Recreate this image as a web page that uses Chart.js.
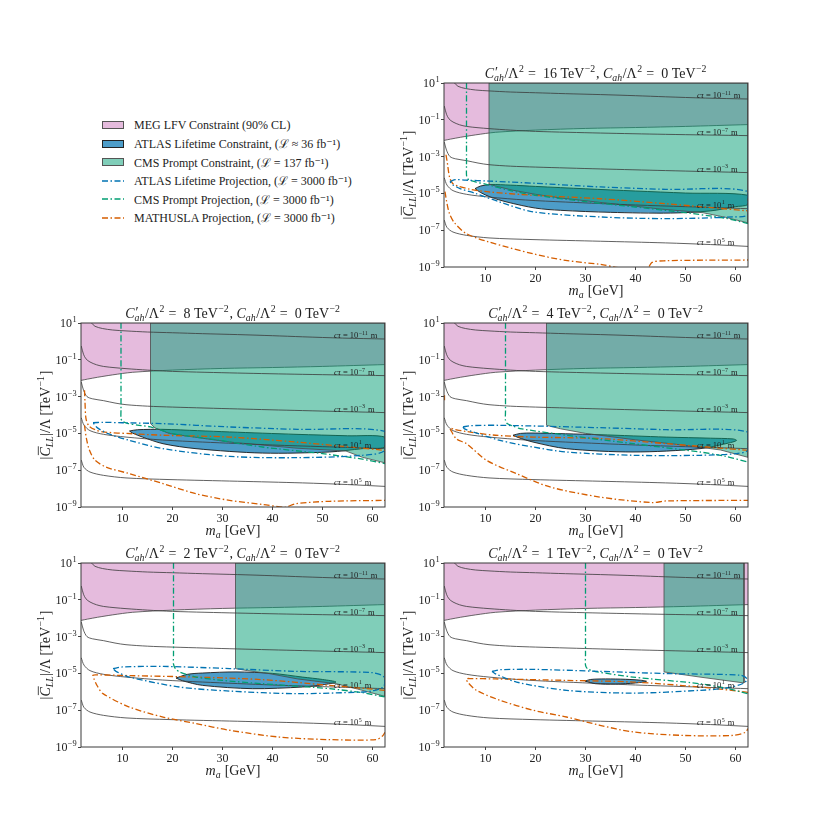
<!DOCTYPE html>
<html>
<head>
<meta charset="utf-8">
<script src="https://cdn.jsdelivr.net/npm/chart.js@4.4.1/dist/chart.umd.min.js"></script>
<style>
  html, body { margin: 0; padding: 0; background: #fff; }
  #page { position: relative; width: 830px; height: 830px; overflow: hidden; font-family: 'Liberation Serif', 'DejaVu Serif', serif; }
  .panel { position: absolute; }
  #legend { position: absolute; left: 102px; top: 116px; font-size: 12px; color: #222; }
  .row { height: 18.5px; display: flex; align-items: center; white-space: nowrap; }
  .swatch { width: 22px; height: 8px; margin-right: 10px; box-sizing: border-box; flex: none; }
  .swatch svg { display: block; }
</style>
</head>
<body>
<div id="page">
  <div id="legend"></div>
</div>
<script>
// axis ranges and ticks
const X_MIN = 1.7;
const X_MAX = 62.5;
const X_TICKS = [10, 20, 30, 40, 50, 60];
const Y_TICKS = [1e1, 1e-1, 1e-3, 1e-5, 1e-7, 1e-9];
const Y_TICK_EXPONENTS = ['1', '−1', '−3', '−5', '−7', '−9'];

// C'_ah / Λ² of each panel, in TeV⁻²
const COUPLINGS = [16, 8, 4, 2, 1];

// all curves below: [m_a in GeV, log10(|C_LL|/Λ in TeV⁻¹)]

// cτ contours, same in every panel
const CT_M11 = [[3.8, 1.0], [4.5, 0.82], [6, 0.7], [8, 0.62], [10.7, 0.57], [15, 0.51], [20, 0.47], [26, 0.42], [33, 0.37], [40, 0.31], [46, 0.25], [54, 0.18], [62.5, 0.13]];
const CT_M7 = [[1.75, -0.25], [2.2, -0.7], [2.7, -0.95], [3.5, -1.12], [4.8, -1.27], [6.2, -1.36], [8.5, -1.43], [10.7, -1.48], [15, -1.56], [20, -1.63], [33, -1.72], [46, -1.79], [62.5, -1.86]];
const CT_M3 = [[1.75, -2.2], [2.2, -2.65], [2.9, -3.0], [4, -3.12], [6.2, -3.22], [8.5, -3.35], [10.7, -3.44], [15, -3.52], [20, -3.57], [33, -3.67], [46, -3.76], [62.5, -3.87]];
const CT_P1 = [[1.75, -4.15], [2.3, -4.55], [3.5, -4.85], [6.2, -5.05], [10.7, -5.2], [18, -5.36], [26, -5.47], [40, -5.63], [50, -5.72], [62.5, -5.83]];
const CT_P5 = [[1.75, -6.45], [2.3, -6.85], [3.5, -7.1], [6.2, -7.28], [10.7, -7.42], [19.5, -7.51], [33, -7.6], [46, -7.69], [55, -7.78], [62.5, -7.88]];
const CTAU_LINES = [CT_M11, CT_M7, CT_M3, CT_P1, CT_P5];
const CTAU_EXPONENTS = ['−11', '−7', '−3', '1', '5'];

// MEG LFV lower edge (excluded above)
const MEG_EDGE = [[1.7, -2.12], [3, -2.05], [5, -1.95], [8, -1.82], [12, -1.68], [20, -1.56], [30, -1.47], [40, -1.42], [50, -1.36], [62.5, -1.26]];

// C'_ah/Λ² = 16
const CMS_16 = [[10.7, 1.0], [62.5, 1.0], [62.5, -6.6], [58, -6.3], [53.5, -6.05], [45, -5.85], [35, -5.55], [25, -5.25], [20, -5.05], [15.5, -4.83], [12, -4.6], [10.7, -4.5], [10.7, 1.0]];
const ATLAS_16 = [[7.9, -4.74], [9, -4.6], [11, -4.52], [15, -4.55], [20, -4.62], [30, -4.75], [40, -4.87], [50, -4.98], [62.5, -5.1], [62.5, -5.6], [60, -5.72], [55, -5.95], [47, -6.07], [35, -6.03], [25, -5.92], [20, -5.8], [14.3, -5.47], [11, -5.2], [9, -4.95], [7.9, -4.74]];
const CMS_PROJ_16 = [[6.2, 1.0], [6.2, -3.5], [6.2, -4.0], [6.4, -4.2], [7, -4.3], [8, -4.38], [10, -4.5], [15, -4.85], [20, -5.1], [30, -5.45], [40, -5.74], [50, -6.05], [58, -6.35], [62.5, -6.64]];
const ATLAS_PROJ_16 = [[2.9, -4.35], [4, -4.25], [6, -4.28], [10.7, -4.33], [20, -4.45], [33, -4.65], [46, -4.78], [62.5, -4.9], [62.5, -6.15], [59.5, -6.28], [46, -6.37], [33, -6.28], [19.5, -6.0], [12.9, -5.47], [8, -5.0], [4.9, -4.74], [3.3, -4.5], [2.9, -4.35]];
const MATH_UP_16 = [[2.1, -2.9], [2.4, -3.4], [2.8, -4.1], [3.4, -4.45], [4.5, -4.6], [7, -4.78], [10.7, -4.92], [19.5, -5.1], [33, -5.29], [46, -5.56], [62.5, -5.95]];
const MATH_LO_16 = [[1.9, -4.9], [2.2, -5.4], [2.8, -6.1], [3.8, -6.6], [6.2, -7.19], [10.7, -7.64], [19.5, -8.28], [26, -8.64], [33, -8.86], [37, -9.05], [42.3, -9.1], [43.3, -8.75], [46, -8.66], [54, -8.63], [62.5, -8.62]];

// C'_ah/Λ² = 8
const CMS_8 = [[15.6, 1.0], [62.5, 1.0], [62.5, -6.6], [58, -6.3], [54.7, -5.96], [44.7, -5.8], [31.4, -5.47], [19.4, -5.01], [16.5, -4.7], [15.6, -4.47], [15.6, 1.0]];
const ATLAS_8 = [[11.4, -4.87], [13, -4.8], [18.1, -4.78], [25, -4.85], [31.4, -4.92], [44.7, -5.05], [55, -5.13], [62.5, -5.2], [62.5, -5.74], [58, -5.83], [51.4, -6.01], [38, -6.07], [24.7, -5.83], [18.1, -5.56], [14, -5.2], [12, -4.98], [11.4, -4.87]];
const CMS_PROJ_8 = [[9.7, 1.0], [9.7, -3.7], [9.7, -4.2], [10, -4.35], [11, -4.45], [13, -4.55], [15.6, -4.65], [20, -5.01], [30, -5.4], [38, -5.74], [50, -6.1], [58, -6.4], [62.5, -6.64]];
const ATLAS_PROJ_8 = [[4.1, -4.42], [6, -4.4], [10, -4.42], [18.1, -4.47], [31.4, -4.65], [45, -4.78], [62.5, -4.89], [62.5, -5.92], [58, -6.19], [44.7, -6.32], [31.4, -6.25], [18.1, -5.83], [11.4, -5.38], [7, -5.0], [5, -4.7], [4.1, -4.42]];
const MATH_UP_8 = [[2.4, -2.66], [2.5, -3.3], [2.7, -4.2], [3.3, -4.6], [4.5, -4.8], [6.1, -4.92], [12, -5.02], [18.1, -5.1], [31.4, -5.2], [44.7, -5.47], [62.5, -5.92]];
const MATH_LO_8 = [[2.4, -4.56], [2.8, -5.3], [3.4, -5.92], [4.5, -6.45], [6.7, -6.83], [11.4, -7.19], [18.1, -7.73], [24.7, -8.28], [31.4, -8.64], [38, -8.86], [42.4, -9.02], [44.7, -8.82], [51.4, -8.69], [62.5, -8.64]];

// C'_ah/Λ² = 4
const CMS_4 = [[22.2, 1.0], [62.5, 1.0], [62.5, -6.3], [57, -5.9], [50, -5.65], [40, -5.35], [30, -5.0], [25, -4.75], [22.2, -4.56], [22.2, 1.0]];
const ATLAS_4 = [[15.5, -5.1], [17, -5.0], [19.5, -4.98], [26, -5.02], [32.9, -5.07], [46.2, -5.2], [55, -5.26], [59.5, -5.3], [60.2, -5.38], [59, -5.5], [52.9, -5.83], [39.5, -6.01], [26.2, -5.83], [19.5, -5.47], [16.5, -5.22], [15.5, -5.1]];
const CMS_PROJ_4 = [[14, 1.0], [14, -3.8], [14, -4.3], [14.4, -4.48], [15.5, -4.6], [16.9, -4.74], [26.2, -5.1], [39.5, -5.56], [52.9, -6.01], [58, -6.25], [62.5, -6.55]];
const ATLAS_PROJ_4 = [[5.5, -4.65], [7, -4.58], [12.9, -4.56], [32.9, -4.69], [46.2, -4.8], [62.5, -4.92], [62.5, -5.9], [60, -6.1], [52.9, -6.19], [39.5, -6.19], [26.2, -6.01], [19.5, -5.74], [12.9, -5.38], [7.5, -4.92], [5.8, -4.75], [5.5, -4.65]];
const MATH_UP_4 = [[62.5, -5.92], [46.2, -5.56], [32.9, -5.28], [19.5, -5.2], [12, -5.1], [6.2, -4.9], [3.8, -4.78], [2.9, -4.72], [3.1, -4.85], [4.2, -5.3], [6.2, -5.56], [10.2, -6.46], [16.2, -7.19], [22.9, -7.91], [32.9, -8.46], [43.3, -8.76], [46.2, -8.67], [62.5, -8.64]];
const MATH_LO_4 = [[1.8, -2.93], [1.8, -3.2]];

// C'_ah/Λ² = 2
const CMS_2 = [[32.6, 1.0], [62.5, 1.0], [62.5, -6.25], [57, -5.85], [52.7, -5.56], [45, -5.3], [39.3, -5.01], [35, -4.85], [32.6, -4.74], [32.6, 1.0]];
const ATLAS_2 = [[20.7, -5.25], [23, -5.05], [26, -4.98], [32.7, -4.92], [40, -5.0], [46, -5.2], [50, -5.33], [52.7, -5.47], [50, -5.62], [46, -5.74], [36, -5.83], [26, -5.65], [22, -5.4], [20.7, -5.25]];
const CMS_PROJ_2 = [[20.2, 1.0], [20.2, -4.0], [20.2, -4.5], [20.6, -4.75], [21.4, -4.92], [24.7, -5.2], [30, -5.38], [38, -5.56], [51.4, -5.83], [58, -6.05], [62.5, -6.28]];
const ATLAS_PROJ_2 = [[8.1, -4.74], [10, -4.65], [18.1, -4.62], [31.4, -4.74], [44.7, -4.89], [60, -4.96], [62.3, -5.2], [62.3, -5.7], [60, -5.95], [58, -6.01], [44.7, -6.1], [31.4, -5.96], [21.4, -5.74], [11.4, -5.2], [8.7, -4.89], [8.1, -4.74]];
const MATH_UP_2 = [[62.5, -5.92], [51.4, -5.65], [38, -5.34], [24.7, -5.2], [11.4, -5.12], [5, -5.08], [4.1, -5.1], [4.3, -5.3], [5, -5.7], [6.1, -6.1], [11.4, -6.83], [18.1, -7.37], [24.7, -7.73], [31.4, -8.09], [41.4, -8.46], [51.4, -8.6], [60.7, -8.6], [62, -8.4], [62.5, -8.2]];
const MATH_LO_2 = [];

// C'_ah/Λ² = 1
const CMS_1 = [[45.7, 1.0], [61.7, 1.0], [61.7, -5.52], [52.9, -5.2], [45.7, -4.92], [45.7, 1.0]];
const ATLAS_1 = [[29.9, -5.42], [31, -5.33], [34, -5.3], [38, -5.32], [41, -5.37], [42.2, -5.43], [40, -5.52], [36, -5.58], [32, -5.56], [29.9, -5.42]];
const CMS_PROJ_1 = [[30, 1.0], [30, -4.0], [30, -4.55], [30.4, -4.75], [32, -4.9], [39.5, -5.2], [52.9, -5.56], [58, -5.8], [62.5, -6.1]];
const ATLAS_PROJ_1 = [[11.3, -4.89], [13, -4.8], [19.5, -4.78], [32.9, -4.89], [46.2, -5.01], [61, -5.1], [62.3, -5.3], [61.5, -5.55], [58, -5.8], [52.9, -5.92], [39.5, -6.07], [26.2, -5.92], [16.2, -5.47], [11.9, -5.01], [11.3, -4.89]];
const MATH_UP_1 = [[62.5, -6.03], [52.9, -5.74], [39.5, -5.47], [26.2, -5.38], [12, -5.3], [7, -5.28], [6.2, -5.3], [6.5, -5.5], [8.2, -5.92], [12.9, -6.46], [19.5, -7.0], [26.2, -7.37], [32.9, -7.82], [39.5, -8.18], [49.5, -8.37], [59.5, -8.37], [62, -8.2], [62.5, -8.0]];
const MATH_LO_1 = [];

const LEGEND_LABELS = [
  'MEG LFV Constraint (90% CL)',
  'ATLAS Lifetime Constraint, (ℒ ≈ 36 fb⁻¹)',
  'CMS Prompt Constraint, (ℒ = 137 fb⁻¹)',
  'ATLAS Lifetime Projection, (ℒ = 3000 fb⁻¹)',
  'CMS Prompt Projection, (ℒ = 3000 fb⁻¹)',
  'MATHUSLA Projection, (ℒ = 3000 fb⁻¹)',
];

const COLORS = {
  meg: 'rgba(204, 120, 188, 0.5)',
  atlas: 'rgba(1, 115, 178, 0.7)',
  cms: 'rgba(2, 158, 115, 0.5)',
  atlasProj: '#0173b2',
  cmsProj: '#029e73',
  mathusla: '#d55e00',
  contour: '#3a3a3a',
};

const PANEL_DATA = {
  16: { cms: CMS_16, atlas: ATLAS_16, cmsProj: CMS_PROJ_16, atlasProj: ATLAS_PROJ_16, math: [MATH_UP_16, MATH_LO_16] },
  8: { cms: CMS_8, atlas: ATLAS_8, cmsProj: CMS_PROJ_8, atlasProj: ATLAS_PROJ_8, math: [MATH_UP_8, MATH_LO_8] },
  4: { cms: CMS_4, atlas: ATLAS_4, cmsProj: CMS_PROJ_4, atlasProj: ATLAS_PROJ_4, math: [MATH_UP_4, MATH_LO_4] },
  2: { cms: CMS_2, atlas: ATLAS_2, cmsProj: CMS_PROJ_2, atlasProj: ATLAS_PROJ_2, math: [MATH_UP_2, MATH_LO_2] },
  1: { cms: CMS_1, atlas: ATLAS_1, cmsProj: CMS_PROJ_1, atlasProj: ATLAS_PROJ_1, math: [MATH_UP_1, MATH_LO_1] },
};

// plot-area boxes on the page [left, top, right, bottom]
const PANEL_BOXES = {
  16: [444, 83, 748, 267],
  8: [81, 323, 385, 507],
  4: [444, 323, 748, 507],
  2: [81, 563, 385, 747],
  1: [444, 563, 748, 747],
};

const FONT = "'Liberation Serif', 'DejaVu Serif', serif";
const INK = '#222';
const DASH_DOT = [6, 2.5, 1.5, 2.5];
const Y_AXIS_W = 50;
const X_AXIS_H = 34;
const TITLE_H = 22;
const PAD_R = 8;

const page = document.getElementById('page');

function toPoints(curve) {
  return curve.map(([x, e]) => ({ x, y: Math.pow(10, e) }));
}

function interpAt(curve, x) {
  for (let i = 1; i < curve.length; i++) {
    const [x0, y0] = curve[i - 1];
    const [x1, y1] = curve[i];
    if (x >= x0 && x <= x1) return y0 + (y1 - y0) * (x - x0) / (x1 - x0);
  }
  return curve[curve.length - 1][1];
}

// small rich-text helper: parts are {t, it, sup, supBig, sub, subIt, bar}
function fontFor(size, italic) {
  return `${italic ? 'italic ' : ''}${size}px ${FONT}`;
}

function layoutRich(ctx, parts, size) {
  const small = size * 0.7;
  const items = [];
  let w = 0;
  parts.forEach((p) => {
    ctx.font = fontFor(size, p.it);
    const mw = ctx.measureText(p.t).width;
    items.push({ text: p.t, font: ctx.font, dx: w, dy: 0, bar: p.bar ? mw : 0 });
    let extra = 0;
    if (p.sup) {
      ctx.font = fontFor(p.supBig ? size : small, false);
      const dy = p.supBig ? -size * 0.05 : -size * 0.42;
      items.push({ text: p.sup, font: ctx.font, dx: w + mw + (p.it ? 1 : 0.4), dy });
      extra = Math.max(extra, ctx.measureText(p.sup).width + 1.2);
    }
    if (p.sub) {
      ctx.font = fontFor(small, p.subIt);
      items.push({ text: p.sub, font: ctx.font, dx: w + mw, dy: size * 0.24 });
      extra = Math.max(extra, ctx.measureText(p.sub).width + 0.6);
    }
    w += mw + extra;
  });
  return { items, width: w };
}

function drawRich(ctx, parts, x, y, size, align) {
  const { items, width } = layoutRich(ctx, parts, size);
  let x0 = x;
  if (align === 'center') x0 = x - width / 2;
  if (align === 'right') x0 = x - width;
  const base = y + size * 0.33;
  ctx.save();
  ctx.fillStyle = INK;
  ctx.textAlign = 'left';
  ctx.textBaseline = 'alphabetic';
  items.forEach((it) => {
    ctx.font = it.font;
    ctx.fillText(it.text, x0 + it.dx, base + it.dy);
    if (it.bar) ctx.fillRect(x0 + it.dx + 1.5, base - size * 0.84, it.bar - 0.5, 0.8);
  });
  ctx.restore();
}

function titleParts(c) {
  return [
    { t: 'C', it: true, sup: '′', supBig: true, sub: 'ah', subIt: true },
    { t: '/Λ', sup: '2' },
    { t: ` =  ${c} TeV`, sup: '−2' },
    { t: ', ' },
    { t: 'C', it: true, sub: 'ah', subIt: true },
    { t: '/Λ', sup: '2' },
    { t: ' =  0 TeV', sup: '−2' },
  ];
}

const Y_TITLE = [
  { t: '|' },
  { t: 'C', it: true, bar: true, sub: 'LL', subIt: true },
  { t: '|/Λ [TeV', sup: '−1' },
  { t: ']' },
];
const X_TITLE = [{ t: 'm', it: true, sub: 'a', subIt: true }, { t: ' [GeV]' }];

function buildDatasets(c) {
  const d = PANEL_DATA[c];
  const sets = [
    { data: toPoints(MEG_EDGE), fill: 'end', backgroundColor: COLORS.meg, borderColor: '#444', borderWidth: 0.8, tension: 0.3, order: 10 },
    { data: toPoints(d.atlas), fill: 'shape', backgroundColor: COLORS.atlas, borderColor: '#1a1a1a', borderWidth: 0.9, tension: 0.3, order: 9 },
    { data: toPoints(d.cms), fill: 'shape', backgroundColor: COLORS.cms, borderColor: '#4a4a4a', borderWidth: 0.8, tension: 0, order: 8 },
  ];
  CTAU_LINES.forEach((curve) => {
    sets.push({ data: toPoints(curve), fill: false, borderColor: COLORS.contour, borderWidth: 0.8, tension: 0.3, order: 5 });
  });
  d.math.forEach((curve) => {
    if (curve.length) {
      sets.push({ data: toPoints(curve), fill: false, borderColor: COLORS.mathusla, borderWidth: 1.3, borderDash: DASH_DOT, tension: 0.3, order: 3 });
    }
  });
  sets.push({ data: toPoints(d.cmsProj), fill: false, borderColor: COLORS.cmsProj, borderWidth: 1.3, borderDash: DASH_DOT, tension: 0.25, order: 2 });
  sets.push({ data: toPoints(d.atlasProj), fill: false, borderColor: COLORS.atlasProj, borderWidth: 1.3, borderDash: DASH_DOT, tension: 0.3, order: 1 });
  return sets.map((s) => ({ pointRadius: 0, ...s }));
}

const ctauLabelPlugin = {
  id: 'ctauLabels',
  afterDatasetsDraw(chart) {
    const { ctx, scales: { x, y } } = chart;
    CTAU_LINES.forEach((curve, i) => {
      const px = x.getPixelForValue(52.3);
      const py = y.getPixelForValue(Math.pow(10, interpAt(curve, 57) + 0.15));
      drawRich(ctx, [{ t: 'cτ', it: true }, { t: ' = 10', sup: CTAU_EXPONENTS[i] }, { t: ' m' }], px, py, 8.5, 'left');
    });
  },
};

const textPlugin = {
  id: 'panelText',
  afterDraw(chart) {
    const { ctx, chartArea: a, scales: { y } } = chart;
    // frame
    ctx.save();
    ctx.strokeStyle = '#3a3a3a';
    ctx.lineWidth = 1;
    ctx.strokeRect(a.left, a.top, a.right - a.left, a.bottom - a.top);
    ctx.restore();
    // y tick labels with superscript exponents
    Y_TICKS.forEach((v, i) => {
      drawRich(ctx, [{ t: '10', sup: Y_TICK_EXPONENTS[i] }], a.left - 3.5, y.getPixelForValue(v), 12, 'right');
    });
    // panel title
    drawRich(ctx, titleParts(chart.options.plugins.panelText.coupling), (a.left + a.right) / 2, a.top - 10, 14, 'center');
    // axis titles
    drawRich(ctx, X_TITLE, (a.left + a.right) / 2, a.bottom + 23, 14, 'center');
    ctx.save();
    ctx.translate(a.left - 36, (a.top + a.bottom) / 2);
    ctx.rotate(-Math.PI / 2);
    drawRich(ctx, Y_TITLE, 0, 0, 14, 'center');
    ctx.restore();
  },
};

function buildPanel(c) {
  const [l, t, r, b] = PANEL_BOXES[c];
  const canvas = document.createElement('canvas');
  canvas.className = 'panel';
  const w = (r - l) + Y_AXIS_W + PAD_R;
  const h = (b - t) + TITLE_H + X_AXIS_H;
  canvas.width = w;
  canvas.height = h;
  canvas.style.left = `${l - Y_AXIS_W}px`;
  canvas.style.top = `${t - TITLE_H}px`;
  canvas.style.width = `${w}px`;
  canvas.style.height = `${h}px`;
  page.append(canvas);

  return new Chart(canvas, {
    type: 'line',
    data: { datasets: buildDatasets(c) },
    options: {
      responsive: false,
      animation: false,
      events: [],
      layout: { padding: { left: 0, right: PAD_R, top: TITLE_H, bottom: 0 } },
      plugins: {
        legend: { display: false },
        tooltip: { enabled: false },
        title: { display: false },
        panelText: { coupling: c },
      },
      scales: {
        x: {
          type: 'linear',
          min: X_MIN,
          max: X_MAX,
          afterFit: (s) => { s.height = X_AXIS_H; },
          afterBuildTicks: (s) => { s.ticks = X_TICKS.map((v) => ({ value: v })); },
          ticks: { font: { family: FONT, size: 12 }, color: INK, padding: 2, maxRotation: 0, callback: (v) => String(v) },
          grid: { drawOnChartArea: false, tickLength: 3, color: '#444' },
          border: { display: false },
        },
        y: {
          type: 'logarithmic',
          min: 1e-9,
          max: 10,
          afterFit: (s) => { s.width = Y_AXIS_W; },
          afterBuildTicks: (s) => { s.ticks = Y_TICKS.map((v) => ({ value: v })); },
          ticks: { display: false },
          grid: { drawOnChartArea: false, tickLength: 3, color: '#444' },
          border: { display: false },
        },
      },
    },
    plugins: [ctauLabelPlugin, textPlugin],
  });
}

function buildLegend() {
  const legend = document.getElementById('legend');
  const swatches = [
    { fill: COLORS.meg, edge: '#555' },
    { fill: COLORS.atlas, edge: '#222' },
    { fill: COLORS.cms, edge: '#555' },
    { line: COLORS.atlasProj },
    { line: COLORS.cmsProj },
    { line: COLORS.mathusla },
  ];
  LEGEND_LABELS.forEach((label, i) => {
    const row = document.createElement('div');
    row.className = 'row';
    const sw = document.createElement('div');
    sw.className = 'swatch';
    const s = swatches[i];
    if (s.fill) {
      sw.style.background = s.fill;
      sw.style.border = `1px solid ${s.edge}`;
    } else {
      sw.innerHTML = `<svg width="22" height="8"><line x1="0" y1="4" x2="22" y2="4" stroke="${s.line}" stroke-width="1.3" stroke-dasharray="${DASH_DOT.join(',')}"/></svg>`;
    }
    const text = document.createElement('span');
    text.textContent = label;
    row.append(sw, text);
    legend.append(row);
  });
}

buildLegend();
COUPLINGS.forEach((c) => buildPanel(c));
</script>
</body>
</html>
